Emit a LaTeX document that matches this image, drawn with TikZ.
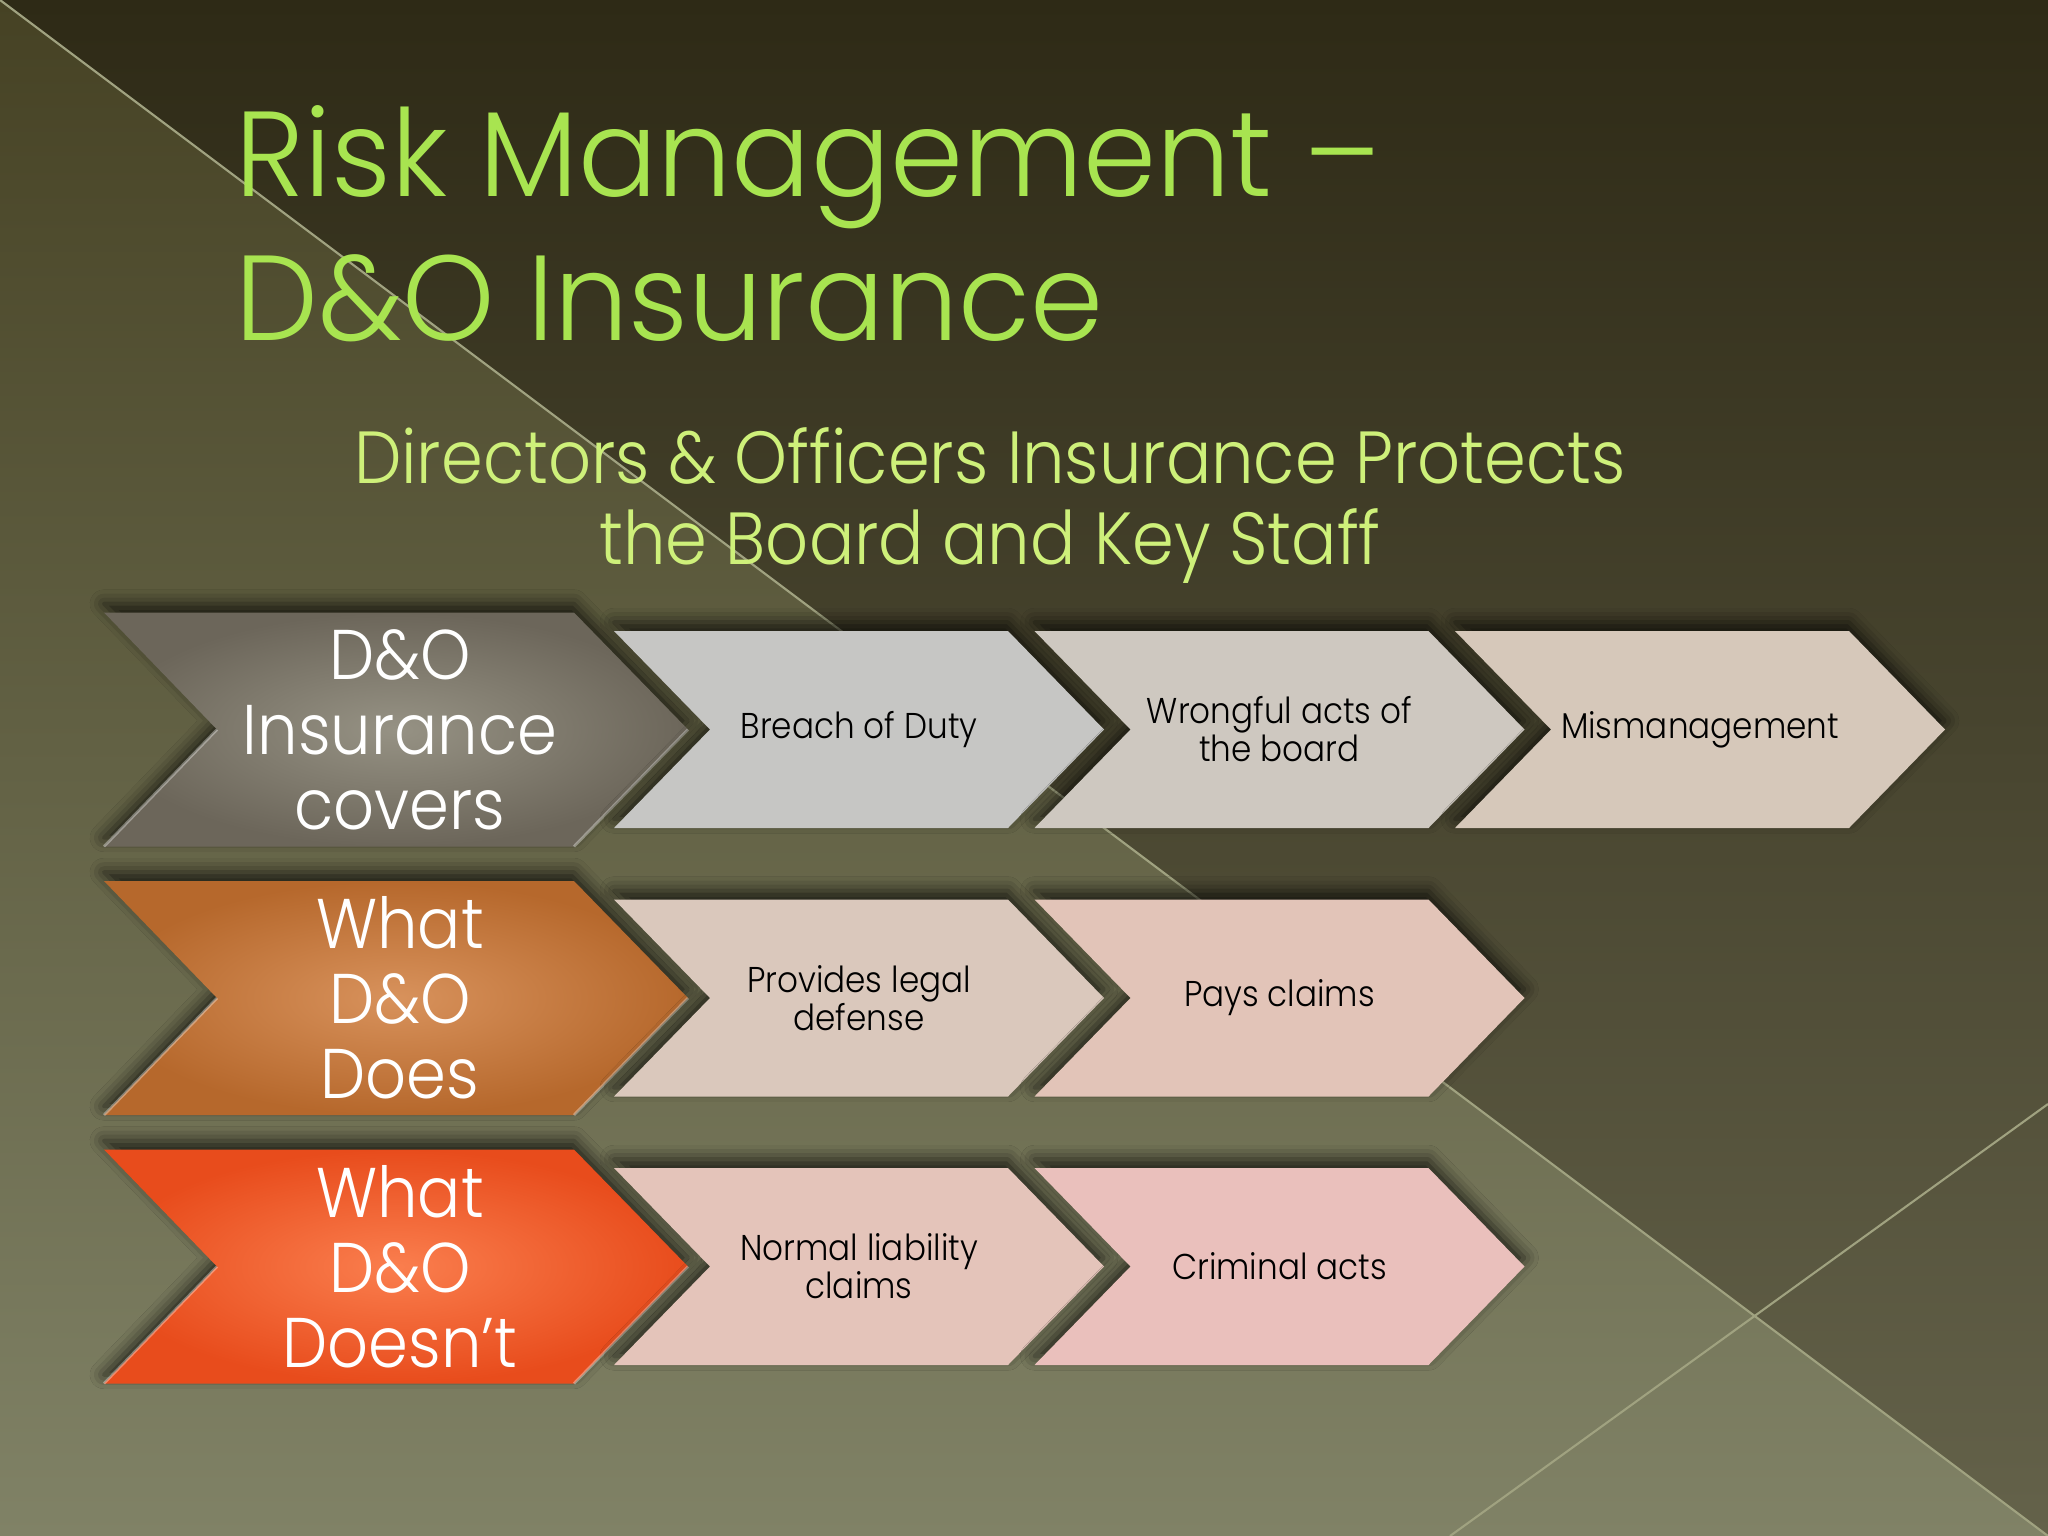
\documentclass[tikz,border=0pt]{standalone}
\usepackage{fontspec}
\setmainfont{Poppins Light}[FakeStretch=0.91]
\newfontfamily\titlefont{Poppins Light}[FakeStretch=0.97]
\usetikzlibrary{shadows,shadows.blur}

\definecolor{bgtop}{RGB}{70,66,36}
\definecolor{bgmid}{RGB}{86,90,54}
\definecolor{bgbot}{RGB}{128,130,102}
\definecolor{bgdarktop}{RGB}{46,42,22}
\definecolor{bgdarkbot}{RGB}{100,98,74}
\definecolor{bgline}{RGB}{160,162,128}
\definecolor{titlegreen}{RGB}{168,228,80}
\definecolor{subgreen}{RGB}{206,240,122}
\definecolor{grayin}{RGB}{150,146,132}
\definecolor{grayout}{RGB}{108,102,90}
\definecolor{orangein}{RGB}{216,146,92}
\definecolor{orangeout}{RGB}{182,104,44}
\definecolor{redin}{RGB}{250,126,78}
\definecolor{redout}{RGB}{232,76,28}
\definecolor{itemA}{RGB}{198,198,196}
\definecolor{itemB}{RGB}{206,200,192}
\definecolor{itemC}{RGB}{214,200,186}
\definecolor{itemD}{RGB}{218,200,188}
\definecolor{itemE}{RGB}{226,196,184}
\definecolor{itemF}{RGB}{228,196,186}
\definecolor{itemG}{RGB}{234,192,188}

\tikzset{
  chev/.style={blur shadow={shadow xshift=0pt,shadow yshift=2.5pt,
      shadow blur radius=4pt,shadow opacity=70}},
  hilite/.style={draw=white,draw opacity=0.35,line width=0.8pt},
  titletext/.style={text=titlegreen,font=\titlefont\fontsize{34.4}{41}\selectfont,inner sep=0pt},
  subtext/.style={text=subgreen,font=\fontsize{21}{23}\selectfont,inner sep=0pt},
  headtext/.style={text=white,align=center,font=\fontsize{20}{21.3}\selectfont},
  itemtext/.style={text=black,align=center,font=\fontsize{10.2}{10.8}\selectfont}
}

\begin{document}
\begin{tikzpicture}[x=0.01cm,y=-0.01cm]
  \useasboundingbox (0,0) rectangle (2048,1536);
  % background
  \shade[top color=bgtop,middle color=bgmid,bottom color=bgbot] (0,0) rectangle (2048,1536);
  \shade[top color=bgdarktop,bottom color=bgdarkbot] (0,0) -- (2048,0) -- (2048,1536) -- cycle;
  \draw[bgline,line width=0.6pt] (0,0) -- (2048,1536);
  \draw[bgline,line width=0.6pt] (1450,1536) -- (2048,1104);

  % titles
  \node[titletext,anchor=base west] (title1) at (235,196) {Risk Management –};
  \node[titletext,anchor=base west] (title2) at (235,340) {D\&O Insurance};
  \node[subtext,anchor=base] (sub1) at (990,483) {Directors \& Officers Insurance Protects};
  \node[subtext,anchor=base] (sub2) at (990,564) {the Board and Key Staff};

  % row headers
  \foreach \r/\cin/\cout/\txt in {0/grayin/grayout/{D\&O\\Insurance\\covers},
      1/orangein/orangeout/{What\\D\&O\\Does},
      2/redin/redout/{What\\D\&O\\Doesn’t}} {
    \pgfmathsetmacro\yc{729.5+268.5*\r}
    \shade[chev,inner color=\cin,outer color=\cout] (104,\yc-117) -- (574,\yc-117)
      -- (688,\yc) -- (574,\yc+117) -- (104,\yc+117) -- (217,\yc) -- cycle;
    \draw[hilite] (217,\yc) -- (104,\yc+117);
    \draw[hilite] (688,\yc) -- (574,\yc+117);
    \node[headtext] (head\r) at (400,\yc) {\txt};
  }

  % items
  \foreach \r/\i/\col/\txt in {0/0/itemA/{Breach of Duty},
      0/1/itemB/{Wrongful acts of\\the board},
      0/2/itemC/{Mismanagement},
      1/0/itemD/{Provides legal\\defense},
      1/1/itemE/{Pays claims},
      2/0/itemF/{Normal liability\\claims},
      2/1/itemG/{Criminal acts}} {
    \pgfmathsetmacro\yc{729.5+268.5*\r}
    \pgfmathsetmacro\xl{614+420.5*\i}
    \fill[chev,fill=\col] (\xl,\yc-98.5) -- (\xl+394,\yc-98.5) -- (\xl+490,\yc)
      -- (\xl+394,\yc+98.5) -- (\xl,\yc+98.5) -- (\xl+96,\yc) -- cycle;
    \node[itemtext] (item\r\i) at (\xl+245,\yc) {\txt};
  }
\end{tikzpicture}
\end{document}
